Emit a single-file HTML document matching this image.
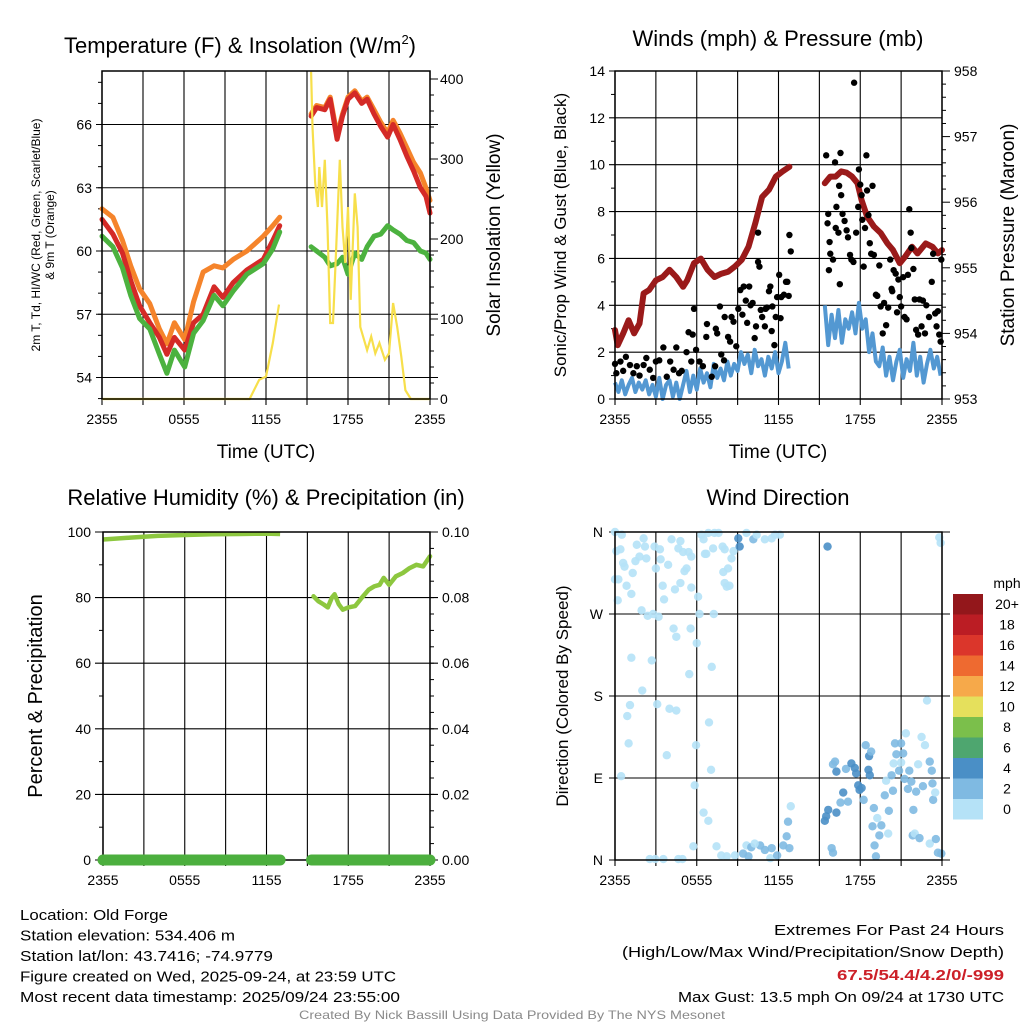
<!DOCTYPE html>
<html><head><meta charset="utf-8"><title>Old Forge Meteogram</title>
<style>html,body{margin:0;padding:0;background:#fff}svg{display:block;font-family:"Liberation Sans",sans-serif}</style>
</head><body>
<svg id="fig" width="1024" height="1024" viewBox="0 0 1024 1024"></svg>
<script>
// ---------- DATA ----------
const xTickLabels = ["2355","0555","1155","1755","2355"];
const tT1 = [0,0.8,1.5,2.1,2.75,3.5,4.2,4.75,5.3,6.05,6.7,7.4,8.2,8.85,9.6,10.6,11.8,12.5,13.0];
const temp1 = [61.5,60.8,59.9,58.6,57.4,56.6,55.9,55.1,55.9,55.3,56.6,57.0,58.3,57.8,58.5,59.1,59.6,60.5,61.2];
const t9m1 = [62.0,61.6,60.5,59.3,58.2,57.5,56.3,55.6,56.6,55.8,57.6,59.0,59.3,59.2,59.6,60.0,60.7,61.2,61.6];
const dewp1 = [60.7,60.2,59.2,57.9,56.8,56.3,55.1,54.2,55.3,54.5,56.1,56.7,57.9,57.4,58.1,58.9,59.4,60.1,60.9];
const tT2 = [15.3,15.7,16.3,16.7,17.2,17.6,18.0,18.5,19.0,19.4,19.9,20.4,20.9,21.3,21.8,22.3,22.8,23.3,23.7,24];
const temp2 = [66.4,66.8,66.7,67.2,65.3,66.4,67.2,67.5,67.0,67.2,66.5,65.9,65.4,66.0,65.3,64.5,63.8,63.0,62.6,61.8];
const t9m2 = [66.5,66.9,66.8,67.3,65.5,66.5,67.3,67.6,67.1,67.3,66.7,66.1,65.6,66.2,65.6,64.9,64.2,63.7,63.0,62.4];
const dewp2 = [60.2,60.0,59.7,59.3,59.4,59.7,58.9,59.9,59.6,60.2,60.7,60.8,61.2,61.0,60.8,60.5,60.4,60.0,59.9,59.6];
const solT1 = [0,10.8,11.5,12.0,12.5,12.95];
const solar1 = [0,0,24,28,70,118];
const solT2 = [15.3,15.4,15.6,15.8,15.9,16.1,16.3,16.5,16.7,16.9,17.1,17.4,17.6,17.8,18.0,18.2,18.5,18.7,18.9,19.4,19.7,20.0,20.3,20.7,21.0,21.3,21.6,21.9,22.2,22.6,24];
const solar2 = [409,340,270,240,290,240,299,215,95,95,174,299,215,170,240,124,257,215,90,61,78,57,70,49,57,120,90,53,11,0,0];
const tempTicks = [54,57,60,63,66];
const solarTicks = [0,100,200,300,400];
const presT1 = [0,0.2,0.6,1.0,1.4,1.8,2.1,2.5,3.0,3.5,4.0,4.5,5.0,5.3,5.8,6.3,6.8,7.3,7.8,8.3,8.8,9.3,9.8,10.3,10.8,11.3,11.8,12.3,12.8];
const pres1 = [954.05,953.82,954.0,954.2,954.0,954.15,954.61,954.66,954.81,954.86,954.97,954.86,954.71,954.81,955.07,955.14,954.97,954.86,954.91,954.94,955.02,955.12,955.32,955.68,956.08,956.19,956.39,956.47,956.54];
const presT2 = [15.4,15.8,16.2,16.6,17.0,17.4,17.8,18.1,18.5,19.0,19.5,20.0,20.4,20.9,21.3,21.8,22.2,22.8,23.3,23.7,24];
const pres2 = [956.29,956.39,956.39,956.47,956.45,956.39,956.29,956.03,955.78,955.63,955.53,955.37,955.27,955.07,955.17,955.32,955.22,955.37,955.32,955.22,955.27];
const wind1 = [0.7,0.3,0.8,0.2,0.6,0.9,0.3,0.7,0.4,0.8,0.2,0.6,0.1,0.9,0.0,0.6,0.8,0.1,0.7,0.0,0.6,1.2,0.3,1.0,0.4,1.3,0.7,1.1,0.5,1.5,0.9,1.3,0.8,1.6,1.0,1.5,1.2,2.0,1.5,1.9,1.1,2.1,1.4,1.7,1.0,1.8,1.3,2.0,1.1,1.6,2.4,1.3];
const wind1Start = 0;
const wind2 = [4.0,2.3,3.6,2.6,3.8,2.4,3.4,3.0,3.7,2.8,4.1,3.0,3.4,2.0,2.8,1.6,1.4,2.2,1.0,1.8,0.8,1.6,2.1,0.9,1.7,1.2,2.4,1.0,1.8,0.7,1.5,2.1,1.3,1.8,1.0];
const wind2Start = 15.4;
const windStep = 0.25;
const gustT = [0,0.1,0.4,0.6,0.8,1.1,1.35,1.6,1.8,2.1,2.3,2.55,2.8,3.0,3.25,3.55,3.8,4.05,4.3,4.5,4.7,4.9,5.25,5.4,5.6,5.7,5.8,5.95,6.2,6.45,6.7,6.75,7.1,7.35,7.4,7.5,7.7,7.8,8.0,8.05,8.3,8.45,8.55,8.7,8.9,9.05,9.2,9.35,9.45,9.6,9.7,9.85,9.95,10.1,10.25,10.35,10.5,10.6,10.7,10.8,11.0,11.05,11.15,11.3,11.4,11.5,11.55,11.7,11.8,11.9,12.05,12.15,12.2,12.4,12.55,12.65,12.75,12.8,12.9,10.5,
15.5,15.6,15.65,15.7,15.75,15.8,16.0,16.15,16.2,16.25,16.4,16.45,16.5,16.55,16.6,16.7,16.85,17.0,17.1,17.25,17.35,17.5,17.55,17.7,17.85,17.9,18.0,18.1,18.15,18.25,18.35,18.45,18.5,18.6,18.7,18.8,18.9,19.0,19.15,19.25,19.4,19.5,19.65,19.75,19.9,20.05,20.2,20.3,20.35,20.45,20.6,20.7,20.8,20.9,21.0,21.15,21.25,21.4,21.5,21.6,21.7,21.75,21.9,22.0,22.1,22.25,22.35,22.5,22.6,22.75,22.85,23.05,23.25,23.35,23.5,23.6,23.7,23.8,23.9,23.95];
const gustV = [1.5,1.1,1.6,1.2,1.8,1.45,1.1,1.4,1.0,1.45,1.75,1.25,0.9,1.6,1.65,2.2,0.95,1.6,1.25,2.2,1.1,1.2,2.0,2.85,1.6,2.75,3.85,2.1,1.6,1.4,2.65,3.2,0.95,1.4,3.0,2.8,3.95,1.9,1.65,3.5,2.65,2.45,3.5,3.3,2.25,3.85,4.65,3.6,4.8,4.2,3.25,4.8,4.0,4.1,2.6,3.1,5.85,5.65,3.8,3.5,3.1,3.85,3.9,4.6,4.8,2.9,3.95,2.3,3.5,4.35,5.3,3.45,4.35,4.45,5.0,5.0,4.4,7.0,6.3,7.1,
10.4,7.5,7.9,5.5,6.7,6.2,5.95,10.1,7.3,8.2,7.1,9.1,4.9,10.5,8.7,7.9,7.6,7.2,6.9,6.15,5.95,5.85,13.5,7.1,8.2,9.8,9.15,8.7,7.65,5.65,7.3,10.4,8.9,7.85,6.65,6.2,9.1,6.15,4.45,4.4,5.7,3.95,2.8,4.1,3.15,3.9,5.95,4.7,4.6,5.5,5.35,3.7,5.1,4.35,3.95,5.2,3.5,3.4,5.3,8.1,7.1,6.45,5.55,4.25,2.95,2.75,4.25,3.1,4.2,2.8,4.0,3.5,5.0,6.2,3.65,3.1,3.75,2.75,2.45,5.95];
const windTicks = [0,2,4,6,8,10,12,14];
const presTicks = [953,954,955,956,957,958];
const rhT1 = [0,2,4,6,8,10,12,13];
const rh1 = [97.7,98.3,98.8,99.1,99.3,99.4,99.5,99.4];
const rhT2 = [15.45,15.8,16.2,16.5,16.8,17.0,17.3,17.6,18.0,18.5,19.0,19.5,19.9,20.3,20.6,21.0,21.5,22.0,22.5,23.0,23.5,24];
const rh2 = [80.4,78.9,77.9,77.0,80.0,81.0,78.0,76.3,77.0,77.4,80.0,82.4,83.4,83.9,86.0,83.9,86.5,87.5,89.0,90.0,89.5,92.6];
const precipT1 = [0,13];
const precip1 = [0,0];
const precipT2 = [15.3,24];
const precip2 = [0,0];
const rhTicks = [0,20,40,60,80,100];
const precipTicks = ["0.00","0.02","0.04","0.06","0.08","0.10"];
const dirT = [0,0.1,0.5,0.4,0.6,0.7,1.3,1.6,1.5,1.8,2.1,2.2,2.3,0,0.25,0.85,1.2,0.2,1.95,2.4,2.8,3.2,2.9,3.3,3.0,3.35,3.9,4.15,4.8,4.65,5.0,5.4,5.6,5.25,5.1,3.5,4.4,4.8,5.6,3.6,4.3,4.5,5.55,6.0,6.1,6.2,6.35,6.5,6.6,6.85,7.3,7.6,6.7,7.2,7.9,8.05,7.95,8.3,8.2,8.4,8.05,8.55,8.7,7.25,1.2,2.7,5.45,7.1,2.0,1.1,0.9,3.1,4.0,4.5,6.9,1.0,5.95,3.8,7.05,0.45,5.85,6.5,6.85,5.75,2.55,2.95,3.55,4.65,4.95,7.45,7.8,8.2,8.8,9.65,10.0,9.4,9.8,10.65,11.0,11.5,11.4,11.9,12.35,12.6,12.7,12.9,12.8,10.25,9.05,9.15,9.65,10.15,10.4,11.0,11.5,11.75,12.1,
15.6,15.4,15.5,15.65,16.25,15.9,16.0,16.15,16.25,16.55,16.75,16.95,17.1,17.35,17.6,17.7,17.85,17.95,18.1,18.25,18.4,18.65,18.8,18.6,18.7,19.0,18.9,19.05,19.15,19.25,19.4,19.55,19.8,19.9,20.05,20.1,20.3,20.4,20.55,20.65,20.85,21.0,21.15,20.45,21.0,21.25,21.35,21.5,21.6,21.75,21.9,21.85,22.0,22.1,22.25,22.35,22.5,22.75,22.6,22.9,23.1,23.25,23.3,23.35,23.5,23.1,23.55,23.7,23.95,23.8,23.9,16.0];
const dirDeg = [360,339,357,341,326,322,315,346,328,333,353,344,331,308,308,301,292,285,274,268,270,267,344,341,320,330,324,352,350,342,338,338,333,320,317,301,297,304,299,286,254,245,254,238,289,270,357,352,336,359,359,359,336,342,344,341,316,320,300,301,304,331,339,270,222,219,204,212,186,170,158,171,166,164,151,128,126,115,99,92,82,52,43,15,1,1,1,1,1,15,5,4,5,16,14,7,4,16,11,13,2,5,16,26,42,59,13,18,353,344,359,352,357,352,353,357,357,
344,43,48,55,52,13,8,108,97,63,74,100,64,106,101,95,82,77,79,66,126,114,119,99,93,57,37,16,4,46,27,38,71,87,29,54,93,76,128,116,98,128,117,106,107,89,139,78,98,86,55,27,29,75,105,24,135,126,81,175,108,98,84,66,74,18,23,8,7,354,348,105];
const dirSpd = [0.5,0.5,0.5,0.5,0.5,0.5,0.5,0.5,0.5,0.5,0.5,0.5,0.5,0.5,0.5,0.5,0.5,0.5,0.5,0.5,0.5,0.5,0.5,0.5,0.5,0.5,0.5,0.5,0.5,0.5,0.5,0.5,0.5,0.5,0.5,0.5,0.5,0.5,0.5,0.5,0.5,0.5,0.5,0.5,0.5,0.5,0.5,0.5,0.5,0.5,0.5,0.5,0.5,0.5,0.5,0.5,0.5,0.5,0.5,0.5,0.5,0.5,0.5,0.5,0.5,0.5,0.5,0.5,0.5,0.5,0.5,0.5,0.5,0.5,0.5,0.5,0.5,0.5,0.5,0.5,0.5,0.5,0.5,0.5,0.5,0.5,0.5,0.5,0.5,0.5,0.5,0.5,0.5,1.5,2.5,2.5,2.5,2.5,2.5,2.5,0.5,2.5,2.5,2.5,2.5,0.5,2.5,0.5,4.2,4.2,0.5,3,0.5,0.5,0.5,0.5,0.5,
4.2,4.5,4.2,4.5,4.5,2.5,2.5,2.5,4.5,2.5,4.5,2.5,2.5,4.5,4.5,4.5,4.5,4.5,4.5,2.5,2.5,4.5,2.5,4.5,4.5,2.5,2.5,2.5,2.5,0.5,2.5,2.5,2.5,0.5,0.5,2.5,2.5,2.5,2.5,2.5,2.5,2.5,2.5,0.5,0.5,2.5,0.5,2.5,2.5,2.5,2.5,2.5,0.5,2.5,0.5,2.5,0.5,0.5,2.5,0.5,2.5,2.5,2.5,2.5,0.5,0.5,2.5,2.5,2.5,0.5,0.5,2.5];
const dirTickLabels = ["N","E","S","W","N"];
const speedLevels = ["0","2","4","6","8","10","12","14","16","18","20+"];
const speedColors = ["#b5e2f7","#7fbae2","#4a8fc6","#4ea66f","#7bbf4b","#e5e05c","#f6a94a","#ee6a30","#db362b","#bb1d24","#93171b"];

// ---------- DRAWING ----------
const NS = "http://www.w3.org/2000/svg";
const svg = document.getElementById("fig");
function mk(tag, attrs, name, parent) {
  const el = document.createElementNS(NS, tag);
  for (const k in attrs) el.setAttribute(k, attrs[k]);
  
  
  (parent || svg).appendChild(el);
  return el;
}
function txt(x, y, s, size, name, opts) {
  opts = opts || {};
  const a = {x: x, y: y, "font-size": size, "text-anchor": opts.anchor || "middle", fill: opts.fill || "#000"};
  if (opts.rot) a.transform = "rotate(-90 " + x + " " + y + ")";
  if (opts.weight) a["font-weight"] = opts.weight;
  if (opts.len) { a.textLength = opts.len; a.lengthAdjust = "spacingAndGlyphs"; }
  const t = mk("text", a, name);
  t.textContent = s;
  return t;
}
function lin(d0, d1, r0, r1) { return v => r0 + (v - d0) / (d1 - d0) * (r1 - r0); }
function pathFrom(xs, ys, fx, fy) {
  let d = "";
  for (let i = 0; i < xs.length; i++) d += (i ? "L" : "M") + fx(xs[i]).toFixed(1) + "," + fy(ys[i]).toFixed(1);
  return d;
}
function frame(P, name) {
  const g = mk("g", {}, name);
  const fx = lin(0, 24, P.x0, P.x1);
  for (let h = 0; h <= 24; h += 3) {
    const x = fx(h);
    mk("line", {x1: x, x2: x, y1: P.y0, y2: P.y1 + 6, stroke: "#000", "stroke-width": 1.1}, "x-gridline", g);
  }
  return g;
}
function xLabels(P, y) {
  const fx = lin(0, 24, P.x0, P.x1);
  xTickLabels.forEach((s, i) => txt(fx(i * 6), y, s, 14, "x-tick-label"));
}
function box(P, name) {
  mk("rect", {x: P.x0, y: P.y0, width: P.x1 - P.x0, height: P.y1 - P.y0, fill: "none", stroke: "#000", "stroke-width": 1.5}, name);
}

// ===== Panel 1 =====
const P1 = {x0: 102, x1: 430, y0: 71, y1: 399};
const x1f = lin(0, 24, P1.x0, P1.x1);
const yT = lin(66, 54, 124.5, 377.5);
const yS = lin(0, 400, 399, 79);
frame(P1, "temperature-grid");
tempTicks.forEach(v => {
  mk("line", {x1: P1.x0 - 6, x2: P1.x1 + 8, y1: yT(v), y2: yT(v), stroke: "#000", "stroke-width": 1.1}, "temp-gridline");
  txt(P1.x0 - 10, yT(v) + 5, String(v), 14, "temp-tick-label", {anchor: "end"});
});
for (let v = 53; v <= 68; v++) mk("line", {x1: P1.x0 - 4, x2: P1.x0, y1: yT(v), y2: yT(v), stroke: "#000"}, "temp-minor-tick");
solarTicks.forEach(v => txt(P1.x1 + 10, yS(v) + 5, String(v), 14, "solar-tick-label", {anchor: "start"}));
for (let v = 0; v <= 400; v += 20) mk("line", {x1: P1.x1, x2: P1.x1 + (v % 100 ? 4 : 8), y1: yS(v), y2: yS(v), stroke: "#000"}, "solar-tick");
[[tT1, t9m1, tT2, t9m2, "#f5842b", "9m-temp-line"], [tT1, temp1, tT2, temp2, "#d42a27", "2m-temp-line"], [tT1, dewp1, tT2, dewp2, "#4cb23f", "dewpoint-line"]].forEach(s => {
  mk("path", {d: pathFrom(s[0], s[1], x1f, yT), fill: "none", stroke: s[4], "stroke-width": 5, "stroke-linejoin": "round", "stroke-linecap": "round"}, s[5]);
  mk("path", {d: pathFrom(s[2], s[3], x1f, yT), fill: "none", stroke: s[4], "stroke-width": 5, "stroke-linejoin": "round", "stroke-linecap": "round"}, s[5]);
});
mk("path", {d: pathFrom(solT1, solar1, x1f, yS), fill: "none", stroke: "#f7df4b", "stroke-width": 2.2}, "solar-line");
mk("path", {d: pathFrom(solT2, solar2, x1f, yS), fill: "none", stroke: "#f7df4b", "stroke-width": 2.2}, "solar-line");
box(P1, "temperature-plot-frame");
xLabels(P1, 424);
const t1 = mk("text", {x: 64, y: 53, "font-size": 22, "text-anchor": "start"}, "temperature-title");
t1.innerHTML = 'Temperature (F) &amp; Insolation (W/m<tspan dy="-9" font-size="13">2</tspan><tspan dy="9">)</tspan>';
txt(266, 458, "Time (UTC)", 19, "temperature-x-axis-title");
txt(40, 235, "2m T, Td, HI/WC (Red, Green, Scarlet/Blue)", 12, "temperature-y-axis-title-line1", {rot: true});
txt(54, 235, "& 9m T (Orange)", 12, "temperature-y-axis-title-line2", {rot: true});
txt(500, 235, "Solar Insolation (Yellow)", 19, "solar-y-axis-title", {rot: true});

// ===== Panel 2 =====
const P2 = {x0: 615, x1: 942, y0: 71, y1: 399};
const x2f = lin(0, 24, P2.x0, P2.x1);
const yW = lin(0, 14, 399, 71);
const yP = lin(953, 958, 399, 71);
frame(P2, "winds-grid");
windTicks.forEach(v => {
  mk("line", {x1: P2.x0 - 6, x2: P2.x1, y1: yW(v), y2: yW(v), stroke: "#000", "stroke-width": 1.1}, "wind-gridline");
  txt(P2.x0 - 10, yW(v) + 5, String(v), 14, "wind-tick-label", {anchor: "end"});
});
for (let v = 1; v <= 13; v += 2) mk("line", {x1: P2.x0 - 4, x2: P2.x0, y1: yW(v), y2: yW(v), stroke: "#000"}, "wind-minor-tick");
presTicks.forEach(v => txt(P2.x1 + 12, yP(v) + 5, String(v), 14, "pressure-tick-label", {anchor: "start"}));
for (let v = 953; v <= 958.001; v += 0.2) mk("line", {x1: P2.x1, x2: P2.x1 + (Math.abs(v - Math.round(v)) < 0.01 ? 8 : 4), y1: yP(v), y2: yP(v), stroke: "#000"}, "pressure-tick");
const wT1 = wind1.map((v, i) => wind1Start + i * windStep);
const wT2 = wind2.map((v, i) => wind2Start + i * windStep);
mk("path", {d: pathFrom(wT1, wind1, x2f, yW), fill: "none", stroke: "#5398d2", "stroke-width": 4, "stroke-linejoin": "round"}, "sonic-wind-line");
mk("path", {d: pathFrom(wT2, wind2, x2f, yW), fill: "none", stroke: "#5398d2", "stroke-width": 4, "stroke-linejoin": "round"}, "sonic-wind-line");
mk("path", {d: pathFrom(presT1, pres1, x2f, yP), fill: "none", stroke: "#9a1a1a", "stroke-width": 6, "stroke-linejoin": "round", "stroke-linecap": "round"}, "pressure-line");
mk("path", {d: pathFrom(presT2, pres2, x2f, yP), fill: "none", stroke: "#9a1a1a", "stroke-width": 6, "stroke-linejoin": "round", "stroke-linecap": "round"}, "pressure-line");
gustT.forEach((t, i) => {
  mk("circle", {cx: x2f(t), cy: yW(gustV[i]), r: 3.2, fill: "#000"}, "gust-point");
});
box(P2, "winds-plot-frame");
xLabels(P2, 424);
txt(778, 46, "Winds (mph) & Pressure (mb)", 22, "winds-title");
txt(778, 458, "Time (UTC)", 19, "winds-x-axis-title");
txt(566, 235, "Sonic/Prop Wind & Gust (Blue, Black)", 17, "wind-y-axis-title", {rot: true});
txt(1014, 235, "Station Pressure (Maroon)", 19, "pressure-y-axis-title", {rot: true});

// ===== Panel 3 =====
const P3 = {x0: 103, x1: 430, y0: 532, y1: 860};
const x3f = lin(0, 24, P3.x0, P3.x1);
const yR = lin(0, 100, 860, 532);
frame(P3, "rh-grid");
rhTicks.forEach((v, i) => {
  mk("line", {x1: P3.x0 - 8, x2: P3.x1 + 8, y1: yR(v), y2: yR(v), stroke: "#000", "stroke-width": 1.1}, "rh-gridline");
  txt(P3.x0 - 12, yR(v) + 5, String(v), 14, "rh-tick-label", {anchor: "end"});
  txt(P3.x1 + 12, yR(v) + 5, precipTicks[i], 14, "precip-tick-label", {anchor: "start"});
});
for (let v = 10; v <= 90; v += 20) mk("line", {x1: P3.x0 - 4, x2: P3.x0, y1: yR(v), y2: yR(v), stroke: "#000"}, "rh-minor-tick");
for (let v = 5; v <= 100; v += 5) mk("line", {x1: P3.x1, x2: P3.x1 + 4, y1: yR(v), y2: yR(v), stroke: "#000"}, "precip-minor-tick");
mk("path", {d: pathFrom(rhT1, rh1, x3f, yR), fill: "none", stroke: "#8dc73f", "stroke-width": 4.5, "stroke-linejoin": "round"}, "rh-line");
mk("path", {d: pathFrom(rhT2, rh2, x3f, yR), fill: "none", stroke: "#8dc73f", "stroke-width": 4.5, "stroke-linejoin": "round", "stroke-linecap": "round"}, "rh-line");
box(P3, "rh-plot-frame");
const yPr = lin(0, 0.1, 860, 532);
mk("path", {d: pathFrom(precipT1, precip1, x3f, yPr), fill: "none", stroke: "#4caf3e", "stroke-width": 11, "stroke-linecap": "round"}, "precip-line");
mk("path", {d: pathFrom(precipT2, precip2, x3f, yPr), fill: "none", stroke: "#4caf3e", "stroke-width": 11, "stroke-linecap": "round"}, "precip-line");
xLabels(P3, 885);
txt(266, 505, "Relative Humidity (%) & Precipitation (in)", 22, "rh-title");
txt(42, 696, "Percent & Precipitation", 20, "rh-y-axis-title", {rot: true});

// ===== Panel 4 =====
const P4 = {x0: 615, x1: 942, y0: 532, y1: 860};
const x4f = lin(0, 24, P4.x0, P4.x1);
const yD = lin(0, 360, 860, 532);
frame(P4, "direction-grid");
dirTickLabels.forEach((s, i) => {
  mk("line", {x1: P4.x0 - 6, x2: P4.x1 + 8, y1: yD(i * 90), y2: yD(i * 90), stroke: "#000", "stroke-width": 1.1}, "direction-gridline");
  txt(P4.x0 - 12, yD(i * 90) + 5, s, 14, "direction-tick-label", {anchor: "end"});
});
function spdColor(s) { return speedColors[Math.min(10, Math.floor(s / 2))]; }
dirT.forEach((t, i) => {
  mk("circle", {cx: x4f(t), cy: yD(dirDeg[i]), r: 4.2, fill: spdColor(dirSpd[i]), "fill-opacity": 0.9}, "direction-point");
});
box(P4, "direction-plot-frame");
xLabels(P4, 885);
txt(778, 505, "Wind Direction", 22, "direction-title");
txt(568, 696, "Direction (Colored By Speed)", 17, "direction-y-axis-title", {rot: true});
txt(1007, 588, "mph", 14, "colorbar-title");
speedLevels.forEach((s, i) => {
  const y = 799 - i * 20.5;
  mk("rect", {x: 953, y: y, width: 30, height: 20.5, fill: speedColors[i]}, "colorbar-box");
  txt(1007, y + 15, s, 14, "colorbar-label");
});

// ===== Footer =====
const info = ["Location: Old Forge", "Station elevation: 534.406 m", "Station lat/lon: 43.7416; -74.9779", "Figure created on Wed, 2025-09-24, at 23:59 UTC", "Most recent data timestamp: 2025/09/24 23:55:00"];
const infoLen = [148, 215, 253, 376, 380];
info.forEach((s, i) => txt(20, 920 + i * 20.5, s, 15, "station-info-line", {anchor: "start", len: infoLen[i]}));
txt(1004, 935, "Extremes For Past 24 Hours", 15, "extremes-title", {anchor: "end", len: 230});
txt(1004, 957, "(High/Low/Max Wind/Precipitation/Snow Depth)", 15, "extremes-legend", {anchor: "end", len: 382});
txt(1004, 980, "67.5/54.4/4.2/0/-999", 15, "extremes-values", {anchor: "end", fill: "#cc2028", weight: "bold", len: 167});
txt(1004, 1002, "Max Gust: 13.5 mph On 09/24 at 1730 UTC", 15, "max-gust", {anchor: "end", len: 326});
txt(512, 1019, "Created By Nick Bassill Using Data Provided By The NYS Mesonet", 12, "credit-line", {fill: "#8a8a8a", len: 426});
</script>
</body></html>
